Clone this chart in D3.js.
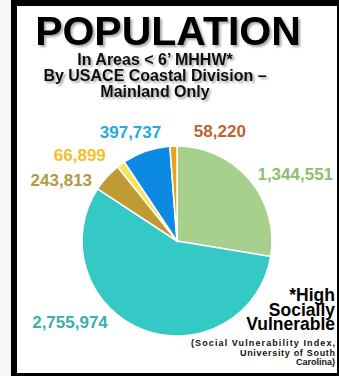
<!DOCTYPE html>
<meta charset="utf-8">
<style>
body { margin: 0; background: #f6f6f6; }
text { font-family: "Liberation Sans", Arial, sans-serif; font-weight: bold; }
</style>
<body>
<script src="https://cdn.jsdelivr.net/npm/d3@7"></script>
<script>
// pie values, clockwise from 12 o'clock
var values = [1344551, 2755974, 243813, 66899, 397737, 58220];
var labels = ["1,344,551", "2,755,974", "243,813", "66,899", "397,737", "58,220"];
var sliceColors = ["#a8d08d", "#35c9c6", "#c09b34", "#f7e35a", "#0b89e3", "#e9a21e"];
var labelColors = ["#8cc06c", "#3aafaa", "#b39a44", "#f4c02a", "#29a8e0", "#c0622f"];
// label placement: [angle in degrees clockwise from top, distance from centre]
var labelPos = [[60.4, 136], [233, 134], [298, 131], [311.6, 130], [337, 119], [21.3, 118]];

var W = 339, H = 376;
var cx = 177, cy = 241, radius = 95;

var svg = d3.select("body").append("svg")
    .attr("width", W)
    .attr("height", H);

var defs = svg.append("defs");
var sh = defs.append("filter").attr("id", "shadow")
    .attr("x", "-10%").attr("y", "-10%").attr("width", "130%").attr("height", "140%");
sh.append("feDropShadow").attr("dx", 2).attr("dy", 2).attr("stdDeviation", 1)
    .attr("flood-color", "#000").attr("flood-opacity", 0.35);

// frame (thick top/left, thin right/bottom)
svg.append("rect").attr("x", 11).attr("y", 0).attr("width", 328).attr("height", 376).attr("fill", "#000");
svg.append("rect").attr("x", 17).attr("y", 6).attr("width", 320).attr("height", 367).attr("fill", "#fff");

// titles
svg.append("text")
    .attr("x", 168).attr("y", 45)
    .attr("text-anchor", "middle")
    .style("font-size", "41px")
    .attr("fill", "#000")
    .attr("filter", "url(#shadow)")
    .text("POPULATION");

var sub = ["In Areas < 6\u2019 MHHW*", "By USACE Coastal Division \u2013", "Mainland Only"];
svg.append("g").selectAll("text")
    .data(sub)
  .enter().append("text")
    .attr("x", 155)
    .attr("y", function(d, i) { return 64.5 + i * 16.3; })
    .attr("text-anchor", "middle")
    .style("font-size", "16px")
    .attr("fill", "#111")
    .attr("filter", "url(#shadow)")
    .text(function(d) { return d; });

// pie
var pie = d3.pie().sort(null).value(function(d) { return d; });
var arc = d3.arc().innerRadius(0).outerRadius(radius);
var arcs = pie(values);

var g = svg.append("g").attr("transform", "translate(" + cx + "," + cy + ")");
g.selectAll("path")
    .data(arcs)
  .enter().append("path")
    .attr("d", arc)
    .attr("fill", function(d, i) { return sliceColors[i]; })
    .attr("stroke", "#fff")
    .attr("stroke-width", 1.5);

g.selectAll(".lbl")
    .data(arcs)
  .enter().append("text")
    .attr("class", "lbl")
    .attr("x", function(d, i) { return Math.sin(labelPos[i][0] * Math.PI / 180) * labelPos[i][1]; })
    .attr("y", function(d, i) { return -Math.cos(labelPos[i][0] * Math.PI / 180) * labelPos[i][1]; })
    .attr("dy", "0.36em")
    .attr("text-anchor", "middle")
    .style("font-size", "17px")
    .attr("fill", function(d, i) { return labelColors[i]; })
    .text(function(d, i) { return labels[i]; });

// footnote
var note = ["*High", "Socially", "Vulnerable"];
svg.append("g").selectAll("text")
    .data(note)
  .enter().append("text")
    .attr("x", 335)
    .attr("y", function(d, i) { return 301 + i * 14.7; })
    .attr("text-anchor", "end")
    .style("font-size", "17.5px")
    .attr("fill", "#000")
    .text(function(d) { return d; });

var small = ["(Social Vulnerability Index,", "University of South", "Carolina)"];
svg.append("g").selectAll("text")
    .data(small)
  .enter().append("text")
    .attr("x", function(d, i) { return i < 2 ? (i == 0 ? 191 : 240) : 335; })
    .attr("y", function(d, i) { return 346 + i * 9.5; })
    .attr("text-anchor", function(d, i) { return i < 2 ? "start" : "end"; })
    .attr("textLength", function(d, i) { return i == 0 ? 144 : (i == 1 ? 95 : null); })
    .attr("lengthAdjust", "spacing")
    .style("font-size", "9px")
    .attr("fill", "#111")
    .text(function(d) { return d; });
</script>
</body>
